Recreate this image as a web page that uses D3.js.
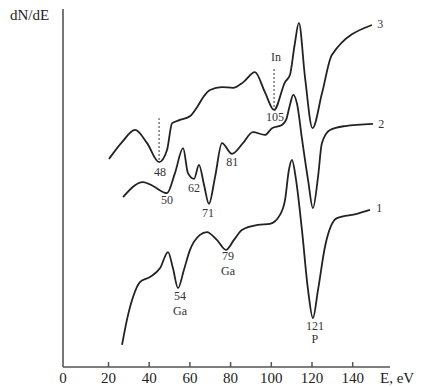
<!DOCTYPE html>
<head>
    <script src="https://d3js.org/d3.v7.min.js"></script>
    <style>
      body { margin: 0; background: #fff; }
      text { font-family: "Liberation Serif", "Times New Roman", serif; }
    </style>
</head>

<body>
    <div id="auger"></div>
</body>

<script>

  // energy (eV) and dN/dE (arbitrary units)
  const curve1 = [
    [26.9, 6.2], [29.3, 13.2], [32.3, 19.6], [35.7, 23.8], [40.6, 25.2], [45.6, 27.7],
    [49.5, 32.2], [51.9, 27.7], [54.4, 22.1], [57.3, 27.2], [60.3, 32.8], [65.2, 37.0],
    [68.6, 37.8], [73.5, 35.6], [78.0, 32.8], [81.9, 35.6], [85.8, 38.4], [93.7, 39.8],
    [99.6, 40.1], [104.5, 42.6], [107.0, 46.8], [108.9, 55.2], [110.4, 58.0], [112.4, 52.4],
    [115.3, 38.4], [118.3, 21.6], [120.7, 13.7], [123.2, 21.6], [126.6, 33.6], [132.5, 41.7],
    [142.3, 42.9], [148.7, 44.0]
  ];

  const curve2 = [
    [27.4, 47.6], [37.2, 51.8], [42.1, 50.7], [49.0, 48.7], [52.9, 54.3], [56.9, 61.3],
    [59.3, 54.3], [62.3, 52.7], [64.7, 56.6], [67.2, 51.0], [69.6, 45.7], [72.6, 53.2],
    [76.0, 62.7], [80.9, 59.7], [86.3, 62.7], [91.2, 65.8], [97.1, 65.0], [100.6, 66.9],
    [105.5, 67.8], [107.5, 69.2], [109.4, 73.4], [111.0, 76.2], [112.9, 73.7], [115.4, 63.6],
    [118.3, 52.4], [120.7, 44.5], [123.2, 53.2], [125.1, 62.7], [129.1, 66.4], [136.5, 67.5],
    [150.2, 68.1]
  ];

  const curve3 = [
    [20.5, 58.3], [26.9, 63.0], [33.3, 66.4], [39.2, 62.7], [45.1, 57.4], [49.0, 60.8],
    [51.5, 68.3], [55.4, 69.2], [60.4, 70.3], [64.0, 73.0], [67.2, 75.9], [70.1, 77.6],
    [76.0, 78.4], [81.4, 78.2], [86.5, 79.8], [92.2, 82.6], [97.1, 77.0], [101.6, 72.0],
    [107.0, 79.8], [109.4, 81.8], [111.7, 90.2], [113.8, 96.4], [116.8, 81.2], [120.5, 66.9],
    [125.2, 76.8], [130.0, 87.4], [149.7, 95.8]
  ];

  const curves = [curve1, curve2, curve3];

  // peak labels: text, energy, dN/dE position of the baseline
  const peakText = ["48", "50", "62", "71", "81", "In", "105", "79", "Ga", "54", "Ga", "121", "P", "3", "2", "1"];
  const peakE    = [45.6, 49.0, 62.3, 69.1, 81.0, 102.6, 102.1, 79.0, 79.0, 55.4, 55.4, 121.7, 121.7, 153.8, 154.3, 153.3];
  const peakV    = [53.5, 45.7, 49.0, 42.0, 56.3, 85.7, 68.9, 29.9, 25.9, 18.7, 14.7, 10.3, 6.6, 95.0, 66.9, 43.4];

  // dotted markers: energy, from, to
  const markE = [45.1, 101.6];
  const markFrom = [58.0, 72.8];
  const markTo = [69.7, 84.0];

  const tickValues = [0, 20, 40, 60, 80, 100, 120, 140];

  const width = 422, height = 387;

  const svg = d3.select("#auger")
    .append("svg")
    .attr("width", width)
    .attr("height", height);

  const x = d3.scaleLinear()
    .domain([0, 160])
    .range([67.3, 392.9]);

  const y = d3.scaleLinear()
    .domain([0, 100])
    .range([367, 10]);

  // axes
  svg.append("line")
    .attr("x1", 63).attr("x2", 63)
    .attr("y1", 9).attr("y2", y(0))
    .attr("stroke", "#555")
    .attr("stroke-width", 1.6);

  svg.append("line")
    .attr("x1", 63).attr("x2", 390)
    .attr("y1", y(0)).attr("y2", y(0))
    .attr("stroke", "#555")
    .attr("stroke-width", 1.6);

  const xAxis = svg.append("g")
    .attr("transform", `translate(0, ${y(0)})`)
    .call(d3.axisBottom(x).tickValues(tickValues).tickSize(-5).tickPadding(5).tickFormat(d3.format("d")));
  xAxis.select(".domain").remove();
  xAxis.selectAll(".tick line")
    .attr("stroke", "#555")
    .attr("stroke-width", 1.5)
    .filter(d => d === 0).remove();
  xAxis.selectAll(".tick text")
    .attr("fill", "#222")
    .style("font-size", "15px")
    .style("font-family", "'Liberation Serif', serif");
  xAxis.selectAll(".tick").filter(d => d === 0)
    .attr("transform", "translate(63,0)");

  svg.append("text")
    .attr("x", 380)
    .attr("y", 383)
    .style("font-size", "15px")
    .attr("fill", "#222")
    .text("E, eV");

  svg.append("text")
    .attr("x", 10)
    .attr("y", 20)
    .style("font-size", "15px")
    .attr("fill", "#222")
    .text("dN/dE");

  // spectra
  const line = d3.line()
    .x(d => x(d[0]))
    .y(d => y(d[1]))
    .curve(d3.curveMonotoneX);

  svg.selectAll(".spectrum")
    .data(curves)
    .join("path")
    .attr("class", "spectrum")
    .attr("d", line)
    .attr("fill", "none")
    .attr("stroke", "#222")
    .attr("stroke-width", 1.8);

  // dotted markers
  svg.selectAll(".mark")
    .data(markE)
    .join("line")
    .attr("class", "mark")
    .attr("x1", d => x(d)).attr("x2", d => x(d))
    .attr("y1", (d, i) => y(markFrom[i]))
    .attr("y2", (d, i) => y(markTo[i]))
    .attr("stroke", "#555")
    .attr("stroke-width", 1.2)
    .attr("stroke-dasharray", "2,2");

  // labels
  svg.selectAll(".peak")
    .data(peakText)
    .join("text")
    .attr("class", "peak")
    .attr("x", (d, i) => x(peakE[i]))
    .attr("y", (d, i) => y(peakV[i]))
    .attr("text-anchor", "middle")
    .style("font-size", "12px")
    .attr("fill", "#333")
    .text(d => d);

</script>
